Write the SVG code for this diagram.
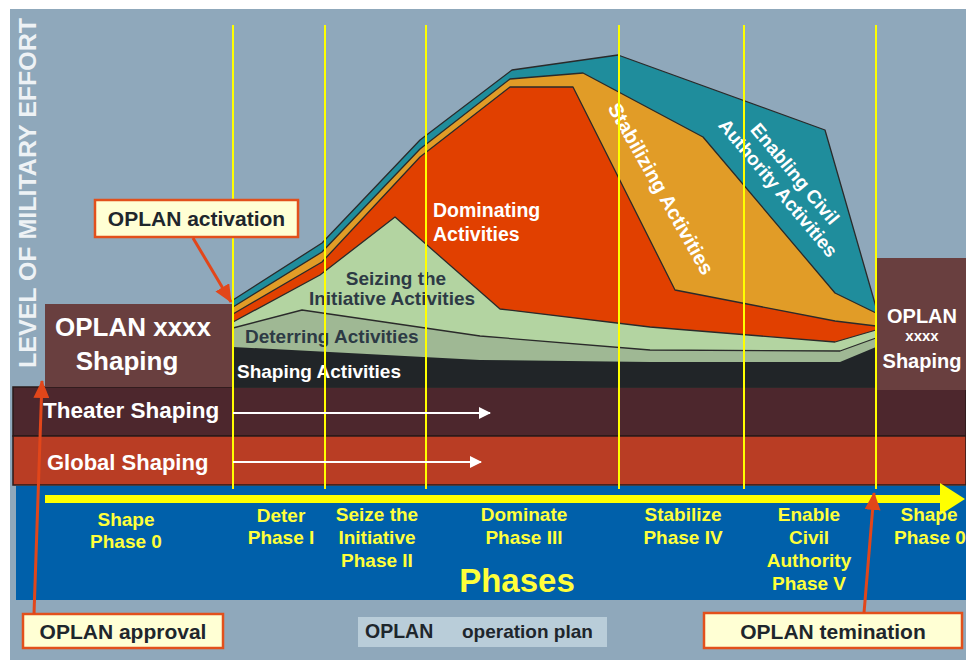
<svg xmlns="http://www.w3.org/2000/svg" width="966" height="660" viewBox="0 0 966 660">
<defs>
<style>
.t{font-family:"Liberation Sans",Arial,sans-serif;font-weight:bold}
.wt{fill:#ffffff}
.dk{fill:#2d3a45}
.ph{fill:#ffff3a;font-size:19px;text-anchor:middle}
.bx{fill:#ffffd4;stroke:#e2501c;stroke-width:2.5}
.bxt{fill:#1e262c;font-size:21px;text-anchor:middle}
.lay{stroke:#2a2a2a;stroke-width:1.3;stroke-linejoin:round}
.vl{stroke:#ffff00;stroke-width:2}
.oa{stroke:#e2461a;stroke-width:3;fill:none}
.wa{stroke:#ffffff;stroke-width:2;fill:none}
</style>
<marker id="oh" markerUnits="userSpaceOnUse" viewBox="0 0 18 16" markerWidth="18" markerHeight="16" refX="17" refY="8" orient="auto">
<path d="M0,0 L18,8 L0,16 Z" fill="#e2461a"/>
</marker>
<marker id="wh" markerUnits="userSpaceOnUse" viewBox="0 0 12 12" markerWidth="12" markerHeight="12" refX="11" refY="6" orient="auto">
<path d="M0,0 L12,6 L0,12 Z" fill="#ffffff"/>
</marker>
</defs>
<rect x="0" y="0" width="966" height="660" fill="#ffffff"/>
<rect x="10" y="9" width="956" height="651" fill="#8fa8bb"/>

<g id="axis-label">
<text class="t" transform="translate(36,368) rotate(-90)" font-size="24" fill="#eef2f5" textLength="350" lengthAdjust="spacingAndGlyphs">LEVEL OF MILITARY EFFORT</text>
</g>

<g id="bands">
<rect x="13" y="387" width="953" height="49" fill="#4d272d" stroke="#2a1a1a" stroke-width="1.5"/>
<rect x="13" y="436" width="953" height="49" fill="#b93d24" stroke="#2a1a1a" stroke-width="1.5"/>
<rect x="16" y="486" width="950" height="114" fill="#0060aa"/>
</g>

<g id="left-shaping-box">
<rect x="45" y="304" width="188" height="83" fill="#693f3f"/>
<text class="t wt" x="133" y="336" font-size="26" text-anchor="middle">OPLAN xxxx</text>
<text class="t wt" x="127" y="370" font-size="26" text-anchor="middle">Shaping</text>
</g>

<g id="right-shaping-box">
<rect x="877" y="258" width="89" height="132" fill="#693f3f"/>
<text class="t wt" x="922" y="323" font-size="20" text-anchor="middle">OPLAN</text>
<text class="t wt" x="922" y="341" font-size="15" text-anchor="middle">xxxx</text>
<text class="t wt" x="922" y="368" font-size="20" text-anchor="middle">Shaping</text>
</g>

<g id="enabling-civil-authority">
<path class="lay" fill="#1f8d9c" d="M233,300 L322,243 L420,140 L512,70 L618,55 L825,130 L876,307 L876,387 L233,387 Z"/>
<text class="t wt" font-size="19" transform="translate(790,178) rotate(50)" text-anchor="middle"><tspan x="0" y="0">Enabling Civil</tspan><tspan x="0" y="22">Authority Activities</tspan></text>
</g>

<g id="stabilizing">
<path class="lay" fill="#e19c27" d="M233,307 L322,252 L420,149 L510,79 L583,73 L703,137 L835,293 L876,313 L876,387 L233,387 Z"/>
<text class="t wt" font-size="20" transform="translate(655,192) rotate(60.5)" text-anchor="middle">Stabilizing Activities</text>
</g>

<g id="dominating">
<path class="lay" fill="#e14000" d="M233,314 L322,262 L420,157 L510,87 L573,87 L675,290 L835,321 L876,326 L876,387 L233,387 Z"/>
<text class="t wt" x="433" y="217" font-size="19.5">Dominating</text>
<text class="t wt" x="433" y="241" font-size="19.5">Activities</text>
</g>

<g id="seizing">
<path class="lay" fill="#b3d4a1" d="M233,322 L320,275 L395,217 L500,309 L650,327 L835,342 L876,330 L876,387 L233,387 Z"/>
<text class="t dk" x="396" y="285" font-size="19" text-anchor="middle">Seizing the</text>
<text class="t dk" x="392" y="305" font-size="19" text-anchor="middle">Initiative Activities</text>
</g>

<g id="deterring">
<path class="lay" fill="#9fb894" d="M233,328 L302,310 L480,336 L650,350 L840,351 L876,338 L876,387 L233,387 Z"/>
<text class="t dk" x="245" y="343" font-size="19">Deterring Activities</text>
</g>

<g id="shaping-activities">
<path fill="#212528" d="M233,347 L480,360 L650,362 L840,362 L876,347 L876,387 L233,387 Z"/>
<text class="t wt" x="237" y="378" font-size="19">Shaping Activities</text>
</g>

<g id="band-labels">
<text class="t wt" x="43" y="418" font-size="22.5">Theater Shaping</text>
<text class="t wt" x="47" y="470" font-size="22">Global Shaping</text>
</g>

<g id="phase-lines">
<line class="vl" x1="233" y1="25" x2="233" y2="489"/>
<line class="vl" x1="325" y1="25" x2="325" y2="489"/>
<line class="vl" x1="426" y1="25" x2="426" y2="489"/>
<line class="vl" x1="619" y1="25" x2="619" y2="489"/>
<line class="vl" x1="744" y1="25" x2="744" y2="489"/>
<line class="vl" x1="876" y1="25" x2="876" y2="489"/>
</g>

<g id="time-axis">
<line x1="45" y1="499" x2="942" y2="499" stroke="#ffff00" stroke-width="8"/>
<polygon points="940,483 965,499 940,515" fill="#ffff00"/>
</g>

<g id="phase-labels">
<text class="t ph" x="126" y="526">Shape</text>
<text class="t ph" x="126" y="548">Phase 0</text>
<text class="t ph" x="281" y="522">Deter</text>
<text class="t ph" x="281" y="544">Phase I</text>
<text class="t ph" x="377" y="521">Seize the</text>
<text class="t ph" x="377" y="544">Initiative</text>
<text class="t ph" x="377" y="567">Phase II</text>
<text class="t ph" x="524" y="521">Dominate</text>
<text class="t ph" x="524" y="544">Phase III</text>
<text class="t ph" x="683" y="521">Stabilize</text>
<text class="t ph" x="683" y="544">Phase IV</text>
<text class="t ph" x="809" y="521">Enable</text>
<text class="t ph" x="809" y="544">Civil</text>
<text class="t ph" x="809" y="567">Authority</text>
<text class="t ph" x="809" y="590">Phase V</text>
<text class="t ph" x="929" y="521">Shape</text>
<text class="t ph" x="930" y="544">Phase 0</text>
<text class="t" x="517" y="592" font-size="33" fill="#ffff3a" text-anchor="middle">Phases</text>
</g>

<g id="oplan-activation">
<rect class="bx" x="95" y="200" width="203" height="37"/>
<text class="t bxt" x="196.5" y="226">OPLAN activation</text>
</g>

<g id="oplan-approval">
<rect class="bx" x="23" y="614" width="200" height="34"/>
<text class="t bxt" x="123" y="639">OPLAN approval</text>
</g>

<g id="oplan-termination">
<rect class="bx" x="704" y="613" width="258" height="35"/>
<text class="t bxt" x="833" y="639">OPLAN temination</text>
</g>

<g id="legend">
<rect x="358" y="617" width="249" height="30" fill="#b9cdd9"/>
<text class="t" x="365" y="638" font-size="19.5" fill="#1e262c">OPLAN</text>
<text class="t" x="462" y="638" font-size="19" fill="#1e262c">operation plan</text>
</g>

<g id="connectors">
<line class="oa" x1="193" y1="238" x2="231" y2="302" marker-end="url(#oh)"/>
<line class="oa" x1="34" y1="614" x2="42" y2="381" marker-end="url(#oh)"/>
<line class="oa" x1="864" y1="613" x2="874" y2="493" marker-end="url(#oh)"/>
<line class="wa" x1="233" y1="413" x2="490" y2="413" marker-end="url(#wh)"/>
<line class="wa" x1="233" y1="462" x2="481" y2="462" marker-end="url(#wh)"/>
</g>
</svg>
